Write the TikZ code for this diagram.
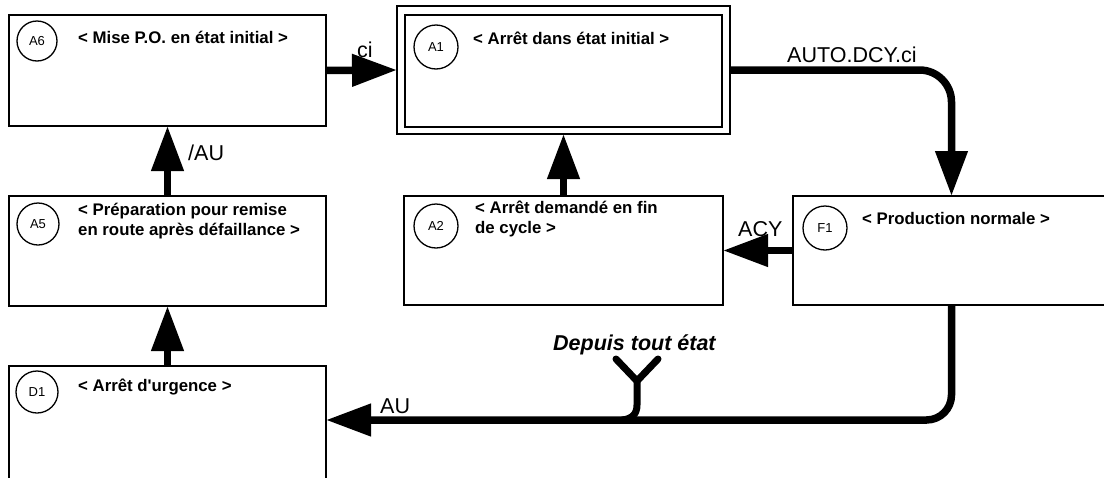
\documentclass[tikz,border=0pt]{standalone}
\usepackage{fontspec}
\setmainfont{Liberation Sans}
\usetikzlibrary{arrows.meta}
\tikzset{
  statebox/.style={draw, rectangle, line width=1.5pt, inner sep=0pt, outer sep=0pt},
  stepcirc/.style={draw, circle, line width=1.3pt, inner sep=0pt, outer sep=0pt,
    minimum size=#1, font=\fontsize{13}{15}\selectfont},
  boxtxt/.style={anchor=base west, inner sep=0pt, font=\fontsize{16.8}{20}\selectfont\bfseries},
  lbl/.style={anchor=base west, inner sep=0pt, font=\fontsize{21.5}{24}\selectfont},
  flow/.style={line width=7.5pt, -{Triangle[length=45pt,width=31pt]}},
  yline/.style={line width=7pt, line cap=round, line join=round}
}
\begin{document}
\begin{tikzpicture}[x=1pt,y=-1pt]
\useasboundingbox (0,0) rectangle (1104,477);
\clip (0,0) rectangle (1104,477);
\fill[white] (0,0) rectangle (1104,477);

% boxes
\node[statebox, minimum width=317pt, minimum height=111pt] (A6) at (167.5,70.5) {};
\node[statebox, minimum width=333pt, minimum height=128pt] (A1) at (563.5,70) {};
\node[statebox, minimum width=317pt, minimum height=112pt] (A1in) at (563.5,71) {};
\node[statebox, minimum width=317pt, minimum height=110pt] (A5) at (167.5,251) {};
\node[statebox, minimum width=319pt, minimum height=109pt] (A2) at (563.5,250.5) {};
\node[statebox, minimum width=317pt, minimum height=109pt] (F1) at (951.5,250.5) {};
\node[statebox, minimum width=317pt, minimum height=116pt] (D1) at (167.5,424) {};

% circles
\node[stepcirc=40pt] (A6c) at (37,41) {A6};
\node[stepcirc=44pt] (A1c) at (436,47) {A1};
\node[stepcirc=42pt] (A5c) at (38,224) {A5};
\node[stepcirc=44pt] (A2c) at (436,226) {A2};
\node[stepcirc=44pt] (F1c) at (825,228) {F1};
\node[stepcirc=42pt] (D1c) at (37,392) {D1};

% box texts
\node[boxtxt] (A6t) at (78,43) {< Mise P.O. en état initial >};
\node[boxtxt] (A1t) at (473,44) {< Arrêt dans état initial >};
\node[boxtxt] (A5t) at (78,215) {\begin{tabular}[t]{@{}l@{}}< Préparation pour remise\\en route après défaillance >\end{tabular}};
\node[boxtxt] (A2t) at (475,213) {\begin{tabular}[t]{@{}l@{}}< Arrêt demandé en fin\\de cycle >\end{tabular}};
\node[boxtxt] (F1t) at (862,224) {< Production normale >};
\node[boxtxt] (D1t) at (78,391) {< Arrêt d\textquotesingle urgence >};

% connectors
\coordinate (aulvl) at (0,420);
\draw[flow] (A6.east) -- (A1.west);
\draw[flow, rounded corners=32pt] (A1.east) -| (F1.north);
\draw[flow] (F1.west) -- (A2.east);
\draw[flow] (A2.north) -- (A1.south);
\draw[flow] (A5.north) -- (A6.south);
\draw[flow] (D1.north) -- (A5.south);
\draw[flow, rounded corners=25pt] (F1.south) |- (D1.east |- aulvl);

% "depuis tout etat" fork
\coordinate (yl) at (616,359);
\coordinate (yr) at (658,359);
\coordinate (yj) at (637,381);
\coordinate (ys) at (637,405);
\coordinate (yb) at (622,420);
\draw[yline] (yl) -- (yj) -- (yr);
\draw[line width=7pt] (yj) -- (ys) .. controls (637,414) and (632,419) .. (yb);

% labels
\node[lbl] (lci) at (357,57) {ci};
\node[lbl] (lauto) at (787,62) {AUTO.DCY.ci};
\node[lbl] (lnau) at (188,160) {/AU};
\node[lbl] (lacy) at (738,236) {ACY};
\node[lbl] (lau) at (380,413) {AU};
\node[anchor=base west, inner sep=0pt, font=\fontsize{21.5}{24}\selectfont\bfseries\itshape] (ldep) at (553,350) {Depuis tout état};
\end{tikzpicture}
\end{document}
